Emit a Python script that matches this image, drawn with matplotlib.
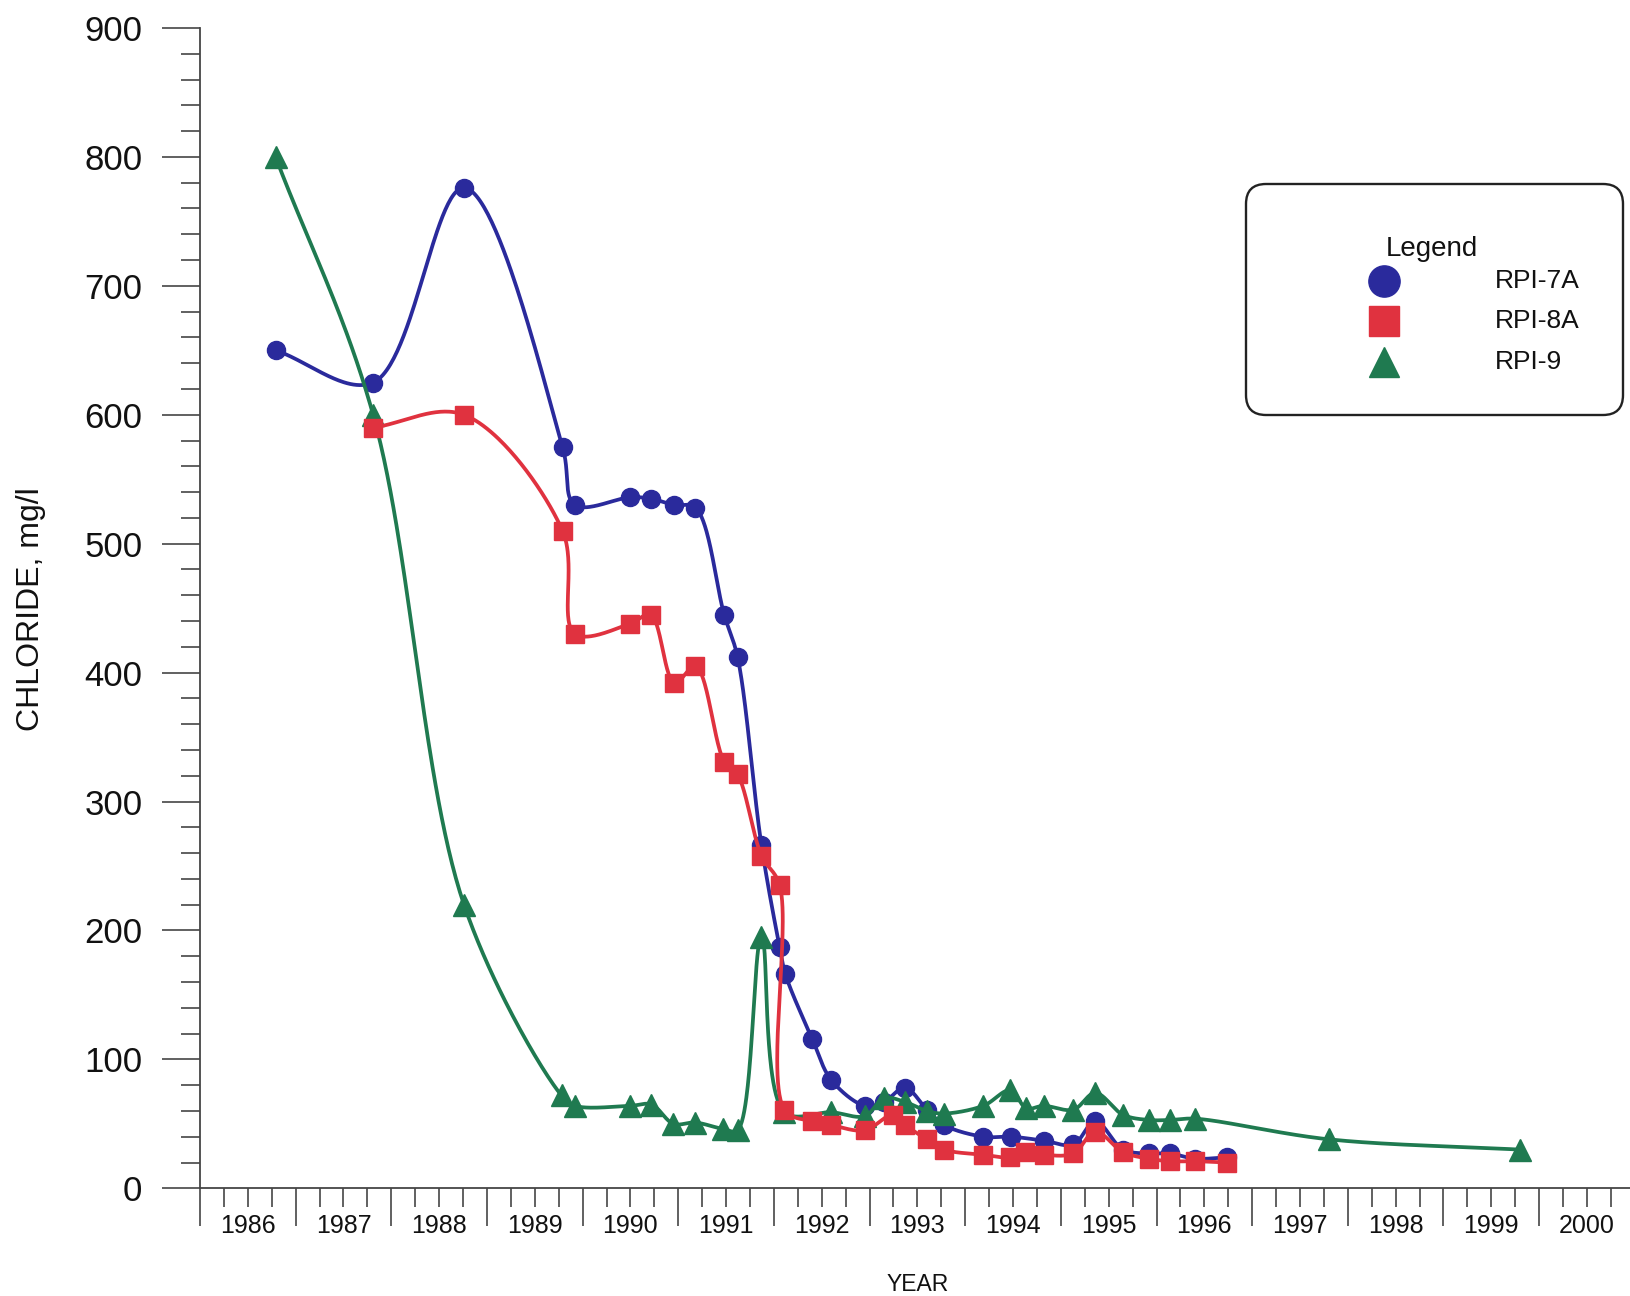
import numpy as np
import matplotlib
matplotlib.use("Agg")
import matplotlib.pyplot as plt
from matplotlib.patches import FancyBboxPatch
from matplotlib.lines import Line2D
from matplotlib import font_manager
from matplotlib.ticker import MultipleLocator, NullFormatter

# ---------------- data ----------------
years_7a = [1986.79, 1987.81, 1988.76, 1989.79, 1989.92, 1990.50, 1990.71, 1990.96,
            1991.18, 1991.48, 1991.62, 1991.87, 1992.06, 1992.12, 1992.40, 1992.60,
            1992.95, 1993.15, 1993.37, 1993.60, 1993.78, 1994.19, 1994.48, 1994.82,
            1995.13, 1995.36, 1995.65, 1995.92, 1996.14, 1996.40, 1996.74]
chloride_7a = [650, 625, 776, 575, 530, 536, 535, 530,
               528, 445, 412, 266, 187, 166, 116, 84,
               64, 67, 78, 61, 49, 40, 40, 37,
               34, 52, 30, 27, 27, 23, 24]

years_8a = [1987.81, 1988.76, 1989.79, 1989.92, 1990.50, 1990.71, 1990.96, 1991.18,
            1991.48, 1991.62, 1991.87, 1992.06, 1992.11, 1992.40, 1992.60, 1992.95,
            1993.24, 1993.37, 1993.60, 1993.78, 1994.19, 1994.47, 1994.63, 1994.82,
            1995.13, 1995.36, 1995.65, 1995.92, 1996.14, 1996.40, 1996.74]
chloride_8a = [590, 600, 510, 430, 438, 445, 392, 405,
               331, 321, 258, 235, 61, 52, 49, 45,
               57, 49, 38, 30, 26, 24, 28, 26,
               27, 44, 28, 23, 21, 21, 20]

years_9 = [1986.79, 1987.81, 1988.76, 1989.78, 1989.92, 1990.50, 1990.72, 1990.95,
           1991.18, 1991.47, 1991.62, 1991.87, 1992.11, 1992.60, 1992.95, 1993.15,
           1993.37, 1993.60, 1993.78, 1994.19, 1994.47, 1994.64, 1994.82, 1995.13,
           1995.36, 1995.65, 1995.92, 1996.14, 1996.40, 1997.80, 1999.80]
chloride_9 = [800, 600, 220, 72, 64, 64, 65, 50,
              51, 46, 45, 195, 59, 59, 56, 70,
              67, 60, 58, 64, 76, 62, 64, 61,
              74, 57, 53, 53, 54, 38, 30]

series_names = ["RPI-7A", "RPI-8A", "RPI-9"]
year_labels = list(range(1986, 2001))
y_ticks = list(range(0, 901, 100))

# ---------------- styles ----------------
BLUE = "#2a2a9c"
RED = "#e0323f"
GREEN = "#1f7a50"
AXCOL = "#454545"


def pick_font(cands, default):
    for c in cands:
        try:
            font_manager.findfont(font_manager.FontProperties(family=c),
                                  fallback_to_default=False)
            return c
        except Exception:
            pass
    return default


SANS = pick_font(["Liberation Sans", "Arial"], "DejaVu Sans")
NARROW = pick_font(["Liberation Sans Narrow", "Arial Narrow"], SANS)
plt.rcParams["font.family"] = [SANS, "DejaVu Sans"]

W, H = 1630, 1296
fig = plt.figure(figsize=(W / 100, H / 100), dpi=100)
fig.patch.set_facecolor("white")

x0_px, x1_px = 200, 1630
y0_px, y1_px = 1188.3, 28
ax = fig.add_axes([x0_px / W, (H - y0_px) / H, (x1_px - x0_px) / W, (y0_px - y1_px) / H])
ax.set_xlim(1986, 2000.95)
ax.set_ylim(0, 900)

for s in ["top", "right"]:
    ax.spines[s].set_visible(False)
for s in ["left", "bottom"]:
    ax.spines[s].set_color(AXCOL)
    ax.spines[s].set_linewidth(1.3)

ax.set_xticks(year_labels)
ax.xaxis.set_minor_locator(MultipleLocator(0.25))
ax.xaxis.set_major_formatter(NullFormatter())
ax.set_yticks(y_ticks)
ax.yaxis.set_minor_locator(MultipleLocator(20))

ax.tick_params(axis="x", which="major", direction="out", length=27.5, width=1.2, color=AXCOL)
ax.tick_params(axis="x", which="minor", direction="out", length=13.5, width=1.2, color=AXCOL)
ax.tick_params(axis="y", which="major", direction="out", length=27.5, width=1.2, color=AXCOL,
               pad=14, labelsize=25, labelcolor="#111111")
ax.tick_params(axis="y", which="minor", direction="out", length=13.5, width=1.2, color=AXCOL)

xt = ax.get_xaxis_transform()
for yr in year_labels:
    ax.text(yr + 0.5, -0.0325, str(yr), transform=xt, ha="center", va="center",
            fontsize=18, family=[NARROW, "DejaVu Sans"], color="#111111")

ax.set_xlabel("YEAR", fontsize=16.5, family=[NARROW, "DejaVu Sans"], va="center", color="#111111")
ax.xaxis.set_label_coords(0.502, -0.0833)
ax.set_ylabel("CHLORIDE, mg/l", fontsize=23, va="center", color="#111111")
ax.yaxis.set_label_coords(-0.1182, 0.4993)


# smooth curve through the points (centripetal Catmull-Rom in display space,
# drawn via the axes' own data transform)
def smooth_path(xs, ys, n=60, alpha=0.5):
    P = ax.transData.transform(np.column_stack([xs, ys]))
    Pe = np.vstack([2 * P[0] - P[1], P, 2 * P[-1] - P[-2]])
    out = []

    def tj(ti, a, b):
        return ti + max(np.hypot(*(b - a)), 1e-6) ** alpha

    for i in range(1, len(Pe) - 2):
        p0, p1, p2, p3 = Pe[i - 1], Pe[i], Pe[i + 1], Pe[i + 2]
        t0 = 0.0
        t1 = tj(t0, p0, p1)
        t2 = tj(t1, p1, p2)
        t3 = tj(t2, p2, p3)
        t = np.linspace(t1, t2, n)[:, None]
        A1 = (t1 - t) / (t1 - t0) * p0 + (t - t0) / (t1 - t0) * p1
        A2 = (t2 - t) / (t2 - t1) * p1 + (t - t1) / (t2 - t1) * p2
        A3 = (t3 - t) / (t3 - t2) * p2 + (t - t2) / (t3 - t2) * p3
        B1 = (t2 - t) / (t2 - t0) * A1 + (t - t0) / (t2 - t0) * A2
        B2 = (t3 - t) / (t3 - t1) * A2 + (t - t1) / (t3 - t1) * A3
        C = (t2 - t) / (t2 - t1) * B1 + (t - t1) / (t2 - t1) * B2
        out.append(C if i == 1 else C[1:])
    D = ax.transData.inverted().transform(np.vstack(out))
    return D[:, 0], D[:, 1]


series = [
    (years_7a, chloride_7a, BLUE, "o", 13, 2),
    (years_9, chloride_9, GREEN, "^", 16, 3),
    (years_8a, chloride_8a, RED, "s", 12.5, 4),
]
for xs, ys, col, mk, ms, z in series:
    sx, sy = smooth_path(xs, ys)
    ax.plot(sx, sy, color=col, lw=2.7, zorder=z, solid_capstyle="round",
            solid_joinstyle="round")
    ax.plot(xs, ys, ls="none", marker=mk, ms=ms, color=col, mec=col, zorder=z + 0.1)

# ---------------- legend box ----------------
tr = fig.dpi_scale_trans
box = FancyBboxPatch((12.46, (H - 415) / 100), 3.77, 2.31,
                     boxstyle="round,pad=0,rounding_size=0.2",
                     transform=tr, fc="white", ec="#222222", lw=1.7, zorder=10)
fig.add_artist(box)
fig.text(14.32 / (W / 100), (H - 249) / H, "Legend", ha="center", va="center",
         fontsize=20, color="#111111", zorder=11)
leg_rows = [(281, BLUE, "o", 22.5), (321, RED, "s", 22), (362, GREEN, "^", 22)]
for (ypx, col, mk, ms), name in zip(leg_rows, series_names):
    yy = (H - ypx) / 100
    fig.add_artist(Line2D([13.84], [yy], transform=tr, ls="none", marker=mk, ms=ms,
                          color=col, mec=col, zorder=11))
    fig.text(14.95 / (W / 100), (H - ypx) / H, name, ha="left", va="center",
             fontsize=19, color="#111111", zorder=11)

fig.savefig("out.png", dpi=100, facecolor="white")
